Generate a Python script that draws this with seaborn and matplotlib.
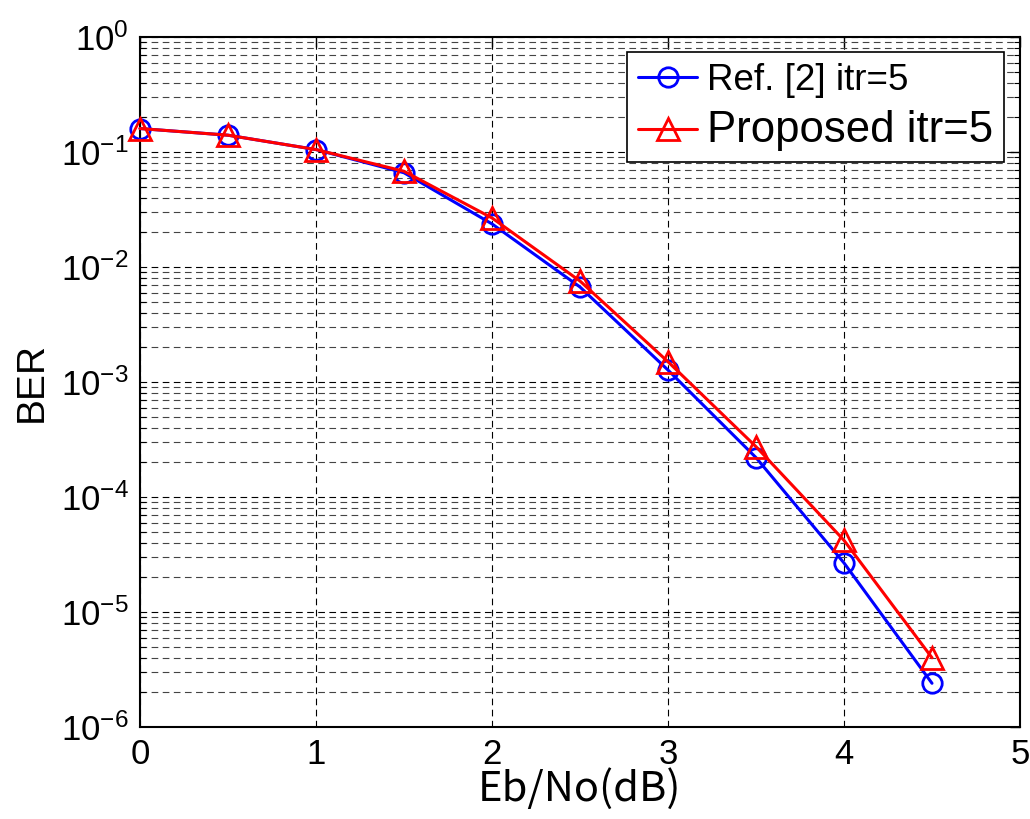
import numpy as np
import pandas as pd
import matplotlib
matplotlib.use("Agg")
import matplotlib.pyplot as plt
import seaborn as sns
from matplotlib.ticker import LogLocator, NullFormatter, LogFormatterSciNotation
from matplotlib.lines import Line2D

ebno = [0, 0.5, 1.0, 1.5, 2.0, 2.5, 3.0, 3.5, 4.0, 4.5]
ber_ref = [0.16, 0.14, 0.105, 0.066, 0.0237, 0.0067, 0.00127, 0.00022, 2.67e-5, 2.4e-6]
ber_prop = [0.16, 0.14, 0.105, 0.068, 0.0267, 0.00755, 0.0015, 0.000274, 4.2e-5, 4.0e-6]
series_names = ["Ref. [2] itr=5", "Proposed itr=5"]

sns.set_style("white")
plt.rcParams['font.family'] = ['Liberation Sans', 'DejaVu Sans']
plt.rcParams['mathtext.fontset'] = 'custom'
plt.rcParams['mathtext.rm'] = 'Liberation Sans'
plt.rcParams['mathtext.it'] = 'Liberation Sans:italic'
plt.rcParams['text.color'] = 'black'
plt.rcParams['axes.labelcolor'] = 'black'
plt.rcParams['xtick.color'] = 'black'
plt.rcParams['ytick.color'] = 'black'

df = pd.DataFrame({
    "x": ebno * 2,
    "y": ber_ref + ber_prop,
    "s": [series_names[0]] * len(ebno) + [series_names[1]] * len(ebno),
})

fig = plt.figure(figsize=(10.30, 8.19), dpi=100)
ax = fig.add_axes([140/1030, 1 - 727/819, 880/1030, 690/819])

colors = {series_names[0]: "#0000ff", series_names[1]: "#ff0000"}
markers = {series_names[0]: "o", series_names[1]: "^"}
sizes = {series_names[0]: 14, series_names[1]: 16}

sns.lineplot(data=df, x="x", y="y", hue="s", style="s",
             palette=colors, markers=markers,
             dashes=False, ax=ax, linewidth=2.2, markersize=14,
             markerfacecolor="none", markeredgewidth=2.0, legend=False)
for ln, name in zip(ax.get_lines(), series_names):
    ln.set_markeredgecolor(ln.get_color())
    ln.set_markerfacecolor("none")
    ln.set_markersize(sizes[name])
    ln.set_clip_on(False)
    ln.set_zorder(5)

ax.set_yscale("log")
ax.set_xlim(0, 5)
ax.set_ylim(1e-6, 1)
ax.set_xticks([0, 1, 2, 3, 4, 5])
ax.yaxis.set_major_locator(LogLocator(base=10, numticks=10))
ax.yaxis.set_minor_locator(LogLocator(base=10, subs=np.arange(2, 10), numticks=20))
ax.yaxis.set_minor_formatter(NullFormatter())
ax.yaxis.set_major_formatter(LogFormatterSciNotation())

ax.grid(True, which="major", axis="both", color="black", linestyle=(0, (6, 4)), linewidth=0.8)
ax.grid(True, which="minor", axis="y", color="#444444", linestyle=(0, (6, 4)), linewidth=0.8)

ax.tick_params(axis="both", which="major", direction="in", length=7, width=1,
               labelsize=25, top=True, right=True, pad=8, colors="black")
ax.tick_params(axis="y", which="minor", direction="in", length=4, width=0.8, right=True, left=True)
for sp in ax.spines.values():
    sp.set_color("black")
    sp.set_linewidth(1.5)

ax.set_xlabel("Eb/No(dB)", fontsize=30, family=['Noto Sans CJK JP', 'DejaVu Sans'], labelpad=-2)
ax.set_ylabel("BER", fontsize=28, labelpad=8)

handles = [
    Line2D([], [], color="#0000ff", marker="o", markersize=14, markerfacecolor="none",
           markeredgewidth=2.0, linewidth=2.2),
    Line2D([], [], color="#ff0000", marker="^", markersize=16, markerfacecolor="none",
           markeredgewidth=2.0, linewidth=2.2),
]
leg = ax.legend(handles, series_names, loc="upper right", bbox_to_anchor=(0.9818, 0.978),
                borderaxespad=0.0,
                frameon=True, fancybox=False, edgecolor="black", framealpha=1,
                fontsize=27, handlelength=1.57, borderpad=0.3, labelspacing=0.3,
                handletextpad=0.25)
leg.get_frame().set_linewidth(1.2)
texts = leg.get_texts()
texts[0].set_fontsize(26.5)
texts[1].set_fontsize(31.5)

fig.savefig("out.png", dpi=100)
